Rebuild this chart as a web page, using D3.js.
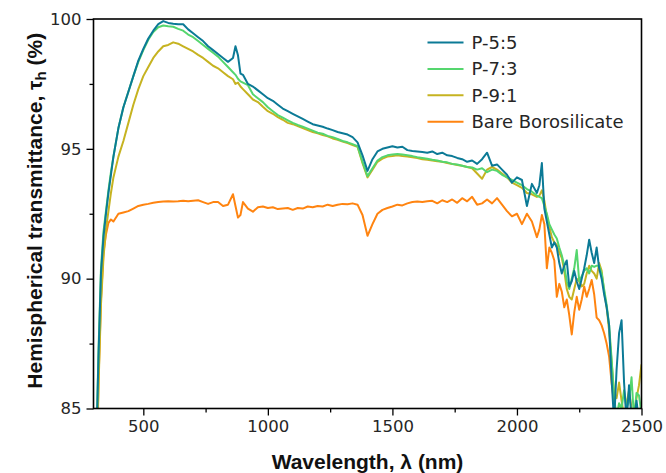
<!DOCTYPE html>
<html>
<head>
<meta charset="utf-8">
<script src="https://cdn.jsdelivr.net/npm/d3@7"></script>
<style>
  body { margin: 0; background: #fff; }
  svg { display: block; }
</style>
</head>
<body>
<div id="main_output"></div>
<script>
// wavelength grid (nm), shared by all four spectra
var wavelength = [310,320,330,340,350,360,370,380,400,420,440,460,480,500,520,540,560,580,600,620,
  640,660,680,700,720,740,760,780,800,820,840,860,870,880,890,900,920,940,960,980,
  1000,1020,1040,1060,1080,1100,1120,1140,1160,1180,1200,1220,1240,1260,1280,1300,1320,1340,1360,1380,
  1400,1420,1440,1460,1480,1500,1520,1540,1560,1580,1600,1620,1640,1660,1680,1700,1720,1740,1760,1780,
  1800,1820,1840,1860,1880,1900,1920,1940,1960,1980,2000,2020,2040,2060,2080,
  2090,2100,2110,2120,2130,2140,2150,2160,2170,2180,2190,2200,2210,2220,2230,2240,2250,2260,2270,2280,
  2290,2300,2310,2320,2330,2340,2350,2360,2370,2380,2390,2400,2410,2420,2430,2440,2450,2460,2470,2480,
  2490,2500];

var p55 = [83.0,87.0,90.2,91.6,92.5,93.3,94.0,94.7,95.8,96.6,97.2,97.8,98.4,98.85,99.25,99.55,99.8,99.92,99.85,99.82,
  99.8,99.8,99.6,99.45,99.3,99.15,98.95,98.8,98.65,98.5,98.35,98.5,98.95,98.6,97.9,97.85,97.5,97.4,97.25,97.1,
  96.95,96.85,96.7,96.55,96.45,96.35,96.25,96.15,96.05,95.95,95.9,95.85,95.78,95.72,95.65,95.6,95.55,95.45,95.25,94.75,
  94.15,94.6,94.9,95.0,95.05,95.1,95.05,95.08,94.95,94.92,94.9,94.88,94.85,94.9,94.8,94.85,94.75,94.72,94.65,94.6,
  94.5,94.55,94.42,94.6,94.85,94.35,94.4,94.2,94.0,93.7,93.9,93.8,92.8,93.65,93.3,
  93.6,94.45,92.7,92.2,91.7,91.2,91.4,91.2,90.6,90.2,90.5,90.7,89.7,89.9,90.3,89.9,89.6,90.0,90.4,90.9,
  91.5,91.0,90.6,91.2,90.4,90.0,89.4,88.9,88.2,86.1,84.5,86.5,87.9,88.4,86.0,84.5,85.9,84.6,84.5,85.3,
  84.5,84.8];

var p73 = [83.0,87.2,90.4,91.8,92.6,93.4,94.1,94.7,95.8,96.6,97.2,97.8,98.35,98.8,99.2,99.5,99.68,99.75,99.72,99.7,
  99.62,99.55,99.4,99.3,99.15,99.0,98.85,98.7,98.55,98.35,98.15,97.95,97.85,97.7,97.6,97.55,97.45,97.1,96.95,96.8,
  96.6,96.45,96.3,96.2,96.1,96.0,95.92,95.85,95.78,95.7,95.62,95.58,95.5,95.45,95.38,95.3,95.25,95.18,95.1,94.5,
  93.95,94.25,94.55,94.68,94.75,94.78,94.8,94.78,94.75,94.72,94.68,94.65,94.62,94.58,94.55,94.5,94.48,94.42,94.4,94.35,
  94.3,94.28,94.2,94.25,94.1,94.2,94.15,94.0,93.9,93.8,93.7,93.6,93.45,93.35,93.2,
  93.15,93.1,92.8,92.5,92.1,91.9,91.7,91.55,91.2,90.9,90.5,89.9,89.6,90.0,90.4,91.1,89.9,90.1,90.3,90.4,
  90.2,90.5,90.45,90.5,90.5,90.2,89.6,89.0,88.2,86.9,85.4,84.7,85.2,85.0,85.7,85.0,85.3,86.2,84.6,85.6,
  85.5,84.8];

var p91 = [82.5,85.8,89.0,90.8,91.9,92.6,93.3,93.9,94.7,95.3,96.0,96.7,97.3,97.8,98.15,98.5,98.75,98.95,99.0,99.1,
  99.05,98.95,98.85,98.75,98.62,98.5,98.35,98.2,98.1,97.95,97.8,97.68,97.5,97.55,97.4,97.3,97.1,96.9,96.8,96.62,
  96.45,96.35,96.22,96.12,96.0,95.95,95.88,95.8,95.72,95.65,95.6,95.53,95.48,95.4,95.35,95.28,95.22,95.15,95.08,94.45,
  93.9,94.2,94.5,94.62,94.7,94.72,94.75,94.72,94.7,94.68,94.65,94.6,94.58,94.55,94.52,94.5,94.45,94.42,94.38,94.35,
  94.3,94.25,94.05,93.85,94.2,94.3,94.2,94.05,93.9,93.7,93.6,93.5,93.3,93.25,93.15,
  93.2,93.4,93.0,92.4,92.0,91.6,91.4,91.3,91.0,90.8,90.3,89.6,89.3,89.2,89.6,90.0,89.9,89.7,89.8,90.2,
  90.5,90.3,90.2,90.0,90.6,90.3,89.5,88.9,88.0,86.8,85.6,85.4,86.0,85.3,84.7,85.2,85.7,85.0,84.7,85.4,
  85.9,86.7];

var bare = [80.0,86.0,89.2,91.0,91.7,92.15,92.28,92.2,92.5,92.55,92.6,92.7,92.8,92.85,92.88,92.92,92.95,92.97,92.98,92.97,
  92.98,93.0,92.98,93.0,93.02,92.95,92.88,92.95,92.95,92.8,92.85,93.25,92.8,92.35,92.45,92.95,92.7,92.58,92.75,92.78,
  92.72,92.75,92.68,92.7,92.72,92.65,92.72,92.7,92.78,92.75,92.8,92.78,92.85,92.8,92.85,92.88,92.87,92.9,92.85,92.45,
  91.65,92.1,92.5,92.65,92.72,92.78,92.85,92.82,92.9,92.95,92.97,92.95,92.98,93.0,92.9,93.02,92.95,93.05,92.92,93.1,
  92.98,93.15,92.85,92.9,93.05,92.9,93.1,92.85,92.6,92.4,92.5,92.1,92.5,92.2,91.6,
  91.9,92.45,92.1,90.4,91.2,91.0,90.7,89.3,89.8,89.5,88.9,89.2,88.6,87.85,88.7,89.3,88.8,89.2,89.7,89.3,
  89.6,89.95,89.4,88.5,88.4,88.2,87.9,87.5,87.0,86.0,85.2,84.6,85.0,84.6,84.5,84.5,84.5,84.5,84.5,84.5,
  84.5,84.5];

var seriesNames = ["P-5:5", "P-7:3", "P-9:1", "Bare Borosilicate"];
var seriesValues = [p55, p73, p91, bare];
var seriesColours = ["#0b7a96", "#55d66e", "#c6b321", "#ff8410"];

var xTicks = [500, 1000, 1500, 2000, 2500];
var xMinorTicks = [750, 1250, 1750, 2250];
var yTicks = [85, 90, 95, 100];
var yMinorTicks = [87.5, 92.5, 97.5];

const margin = {top: 19, right: 24.5, bottom: 64.5, left: 93.5};
var fullWidth = 666, fullHeight = 473;
var width = fullWidth - margin.left - margin.right;
var height = fullHeight - margin.top - margin.bottom;

const x = d3.scaleLinear().domain([300, 2500]).range([0, width]),
      y = d3.scaleLinear().domain([85, 100]).range([height, 0]);

var svg = d3.select("#main_output")
  .append("svg")
  .attr("width", fullWidth)
  .attr("height", fullHeight);

var plot = svg.append("g")
  .attr("transform", "translate(" + margin.left + "," + margin.top + ")");

plot.append("clipPath")
  .attr("id", "plotClip")
  .append("rect")
  .attr("width", width)
  .attr("height", height);

var line = d3.line()
  .x(function(d, i) { return x(wavelength[i]); })
  .y(function(d) { return y(d); });

var lines = plot.append("g").attr("clip-path", "url(#plotClip)");

// draw bare glass first, then the coatings on top (reverse legend order)
for (let s = seriesValues.length - 1; s >= 0; s--) {
  lines.append("path")
    .datum(seriesValues[s])
    .attr("fill", "none")
    .attr("stroke", seriesColours[s])
    .attr("stroke-width", 2)
    .attr("stroke-linejoin", "round")
    .attr("d", line);
}

// axes
var tickFont = "'DejaVu Sans', sans-serif";

var xAxis = plot.append("g")
  .attr("transform", "translate(0," + height + ")")
  .call(d3.axisBottom(x).tickValues(xTicks).tickSize(7).tickPadding(5).tickFormat(d3.format("d")));
var xMinor = plot.append("g")
  .attr("transform", "translate(0," + height + ")")
  .call(d3.axisBottom(x).tickValues(xMinorTicks).tickSize(4).tickFormat(""));

var yAxis = plot.append("g")
  .call(d3.axisLeft(y).tickValues(yTicks).tickSize(7).tickPadding(5));
var yMinor = plot.append("g")
  .call(d3.axisLeft(y).tickValues(yMinorTicks).tickSize(4).tickFormat(""));

[xAxis, xMinor, yAxis, yMinor].forEach(function(g) {
  g.select(".domain").remove();
  g.selectAll(".tick line").attr("stroke", "#000").attr("stroke-width", 1.3);
  g.selectAll(".tick text")
    .attr("fill", "#262626")
    .style("font-family", tickFont)
    .style("font-size", "16.5px");
});

// frame
plot.append("rect")
  .attr("width", width)
  .attr("height", height)
  .attr("fill", "none")
  .attr("stroke", "#000")
  .attr("stroke-width", 1.6);

// axis titles
svg.append("text")
  .attr("x", margin.left + width / 2)
  .attr("y", 469)
  .attr("text-anchor", "middle")
  .style("font-family", "'Liberation Sans', Arial, sans-serif")
  .style("font-weight", "bold")
  .style("font-size", "21px")
  .attr("fill", "#111")
  .text("Wavelength, \u03bb (nm)");

var yTitle = svg.append("text")
  .attr("transform", "translate(42," + (margin.top + height / 2 - 3) + ") rotate(-90)")
  .attr("text-anchor", "middle")
  .style("font-family", "'Liberation Sans', Arial, sans-serif")
  .style("font-weight", "bold")
  .style("font-size", "21px")
  .attr("fill", "#111");
yTitle.append("tspan").text("Hemispherical transmittance, \u03c4");
yTitle.append("tspan").attr("dy", 4).style("font-size", "15px").text("h");
yTitle.append("tspan").attr("dy", -4).text(" (%)");

// legend
var legend = svg.append("g").attr("transform", "translate(427.5,42.5)");
seriesNames.forEach(function(name, i) {
  var row = legend.append("g").attr("transform", "translate(0," + (i * 26.4) + ")");
  row.append("line")
    .attr("x1", 0).attr("x2", 36)
    .attr("stroke", seriesColours[i])
    .attr("stroke-width", 2);
  row.append("text")
    .attr("x", 44)
    .attr("dy", "0.36em")
    .attr("fill", "#262626")
    .style("font-family", tickFont)
    .style("font-size", "18px")
    .text(name);
});
</script>
</body>
</html>
